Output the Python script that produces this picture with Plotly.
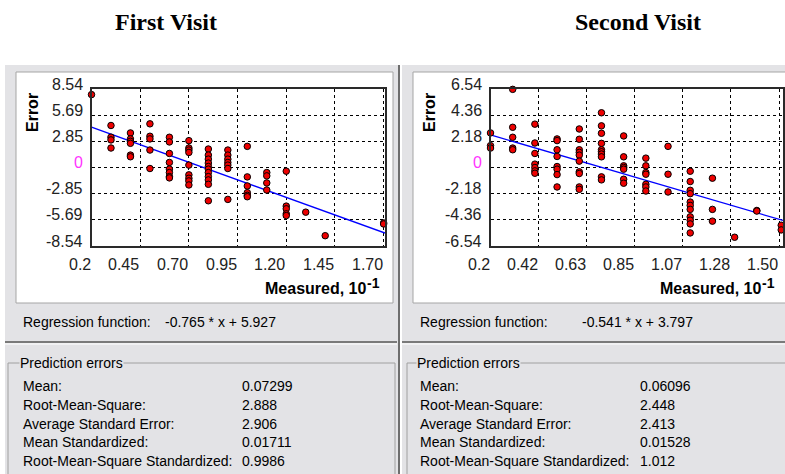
import plotly.graph_objects as go

W, H = 785, 474

# ---------------- data ----------------
titles = ["First Visit", "Second Visit"]

first_measured = [0.2,
                  0.3, 0.3, 0.3, 0.3,
                  0.4, 0.4, 0.4, 0.4, 0.4, 0.4,
                  0.5, 0.5, 0.5, 0.5, 0.5,
                  0.6, 0.6, 0.6, 0.6, 0.6, 0.6, 0.6, 0.6,
                  0.7, 0.7, 0.7, 0.7, 0.7, 0.7, 0.7, 0.7, 0.7,
                  0.8, 0.8, 0.8, 0.8, 0.8, 0.8, 0.8, 0.8, 0.8, 0.8, 0.8,
                  0.9, 0.9, 0.9, 0.9, 0.9, 0.9, 0.9,
                  1.0, 1.0, 1.0, 1.0, 1.0, 1.0,
                  1.1, 1.1, 1.1, 1.1,
                  1.2, 1.2, 1.2, 1.2, 1.2,
                  1.3, 1.4,
                  1.7, 1.7, 1.7]
first_error = [7.93,
               4.57, 3.30, 3.00, 2.12,
               3.76, 3.11, 2.85, 2.63, 1.35, 1.17,
               4.75, 3.40, 3.11, 1.90, -0.11,
               3.29, 2.78, 1.53, 0.55, -0.18, -0.55, -0.99, -1.13,
               2.92, 2.12, 1.90, 1.64, 0.26, -0.80, -1.17, -1.46, -1.90,
               2.01, 1.35, 0.91, 0.48, 0.11, -0.18, -0.55, -0.99, -1.35, -1.83, -3.62,
               1.90, 1.35, 0.91, 0.55, 0.26, -0.11, -3.47,
               2.30, -1.02, -2.01, -2.74, -3.03, -3.18,
               -0.55, -0.91, -1.68, -2.45,
               -0.40, -4.20, -4.49, -5.04, -5.23,
               -4.86, -7.42,
               -6.03, -6.14, -8.59]

second_measured = [0.2, 0.2, 0.2,
                   0.3, 0.3, 0.3, 0.3, 0.3,
                   0.4, 0.4, 0.4, 0.4, 0.4, 0.4, 0.4,
                   0.5, 0.5, 0.5, 0.5, 0.5, 0.5, 0.5, 0.5,
                   0.6, 0.6, 0.6, 0.6, 0.6, 0.6, 0.6, 0.6, 0.6, 0.6,
                   0.7, 0.7, 0.7, 0.7, 0.7, 0.7, 0.7, 0.7, 0.7, 0.7,
                   0.8, 0.8, 0.8, 0.8, 0.8, 0.8, 0.8,
                   0.9, 0.9, 0.9, 0.9, 0.9, 0.9, 0.9,
                   1.0, 1.0, 1.0,
                   1.1, 1.1, 1.1, 1.1, 1.1, 1.1, 1.1, 1.1, 1.1, 1.1, 1.1,
                   1.2, 1.2, 1.2,
                   1.3,
                   1.4, 1.4,
                   1.51, 1.51]
second_error = [2.88, 1.82, 1.62,
                6.51, 3.35, 2.52, 1.62, 1.48,
                3.61, 2.04, 1.17, 0.28, 0.0, -0.28, -0.48,
                2.38, 2.24, 1.48, 0.92, 0.08, -0.14, -0.59, -1.62,
                3.21, 2.35, 1.48, 1.26, 1.03, 0.53, -0.36, -0.50, -1.62, -1.82,
                4.56, 3.47, 2.85, 2.01, 1.48, 1.31, 1.12, 0.89, -0.78, -1.03,
                2.63, 0.89, 0.14, 0.0, -0.14, -0.98, -1.31,
                0.78, 0.14, -0.42, -0.56, -1.40, -1.62, -1.96,
                1.76, -0.56, -2.04,
                -0.31, -1.17, -1.90, -2.18, -2.88, -3.16, -3.49, -4.11, -4.39, -4.70, -5.45,
                -0.89, -3.49, -4.47,
                -5.81,
                -3.58, -3.63,
                -4.81, -5.20]

# regression y = slope * (10 * measured) + intercept   (Measured axis in units of 10^-1)
slopes = [-0.765, -0.541]
intercepts = [5.927, 3.797]
regression_text = ["-0.765 * x + 5.927", "-0.541 * x + 3.797"]

x_tick_vals = [[0.2, 0.45, 0.70, 0.95, 1.20, 1.45, 1.70],
               [0.2 + k * 1.3 / 6 for k in range(7)]]
x_tick_text = [["0.2", "0.45", "0.70", "0.95", "1.20", "1.45", "1.70"],
               ["0.2", "0.42", "0.63", "0.85", "1.07", "1.28", "1.50"]]
y_tick_vals = [[8.54, 5.69, 2.85, 0, -2.85, -5.69, -8.54],
               [6.54, 4.36, 2.18, 0, -2.18, -4.36, -6.54]]
y_tick_text = [["8.54", "5.69", "2.85", "0", "-2.85", "-5.69", "-8.54"],
               ["6.54", "4.36", "2.18", "0", "-2.18", "-4.36", "-6.54"]]
x_ranges = [[0.2, 1.707], [0.2, 1.518]]

stat_labels = ["Mean:", "Root-Mean-Square:", "Average Standard Error:",
               "Mean Standardized:", "Root-Mean-Square Standardized:"]
stat_values = [["0.07299", "2.888", "2.906", "0.01711", "0.9986"],
               ["0.06096", "2.448", "2.413", "0.01528", "1.012"]]

# ---------------- helpers ----------------
def px(x):
    return x / W


def py(y):
    return 1 - y / H


PANEL = "#e3e3e6"
SANS = "Liberation Sans, Arial, sans-serif"
SMALL = 14

fig = go.Figure()
shapes = []
ann = []

panels = [
    dict(gx0=5, gx1=398, wx0=16, wx1=393, plx0=91.5, plx1=385, ylab_r=85, err_x=33,
         meas_r=381, lab_x=21, val_x=240, reg_x=163, box_x0=8, box_x1=395, title_x=166),
    dict(gx0=402, gx1=790, wx0=413, wx1=790, plx0=490.5, plx1=783, ylab_r=484, err_x=430,
         meas_r=776, lab_x=418, val_x=638, reg_x=580, box_x0=407, box_x1=800, title_x=638),
]
plot_top, plot_bot = 89, 246

for i, p in enumerate(panels):
    shapes.append(dict(type="rect", xref="paper", yref="paper",
                       x0=px(p["gx0"]), x1=px(p["gx1"]), y0=py(H + 5), y1=py(65),
                       fillcolor=PANEL, line=dict(width=0), layer="below"))
    shapes.append(dict(type="rect", xref="paper", yref="paper",
                       x0=px(p["wx0"]), x1=px(p["wx1"]), y0=py(303), y1=py(72),
                       fillcolor="white", line=dict(color="#a5a5a5", width=1), layer="below"))
    shapes.append(dict(type="line", xref="paper", yref="paper",
                       x0=px(p["gx0"]), x1=px(p["gx1"] - 1), y0=py(342), y1=py(342),
                       line=dict(color="#7a7a7a", width=2)))
    shapes.append(dict(type="line", xref="paper", yref="paper",
                       x0=px(p["gx0"]), x1=px(p["gx1"] - 1), y0=py(344), y1=py(344),
                       line=dict(color="#ffffff", width=1)))
    shapes.append(dict(type="rect", xref="paper", yref="paper",
                       x0=px(p["box_x0"]), x1=px(p["box_x1"]), y0=py(H + 10), y1=py(363),
                       fillcolor="rgba(0,0,0,0)", line=dict(color="#a0a0a0", width=1)))

    ann.append(dict(text="<b>%s</b>" % titles[i], xref="paper", yref="paper",
                    x=px(p["title_x"]), y=py(22), xanchor="center", yanchor="middle",
                    showarrow=False, font=dict(family="Liberation Serif, Times New Roman, serif",
                                               size=24, color="black")))
    xa = "x" if i == 0 else "x2"
    ya = "y" if i == 0 else "y2"
    ann.append(dict(text="<b>Error</b>", xref="paper", yref="paper", textangle=-90,
                    x=px(p["err_x"]), y=py(113), xanchor="center", yanchor="middle",
                    showarrow=False, font=dict(family=SANS, size=16, color="black")))
    ann.append(dict(text="<b>Measured, 10</b>", xref="paper", yref="paper",
                    x=px(p["meas_r"] - 13), y=py(288), xanchor="right", yanchor="middle",
                    showarrow=False, font=dict(family=SANS, size=16, color="black")))
    ann.append(dict(text="<b>-1</b>", xref="paper", yref="paper",
                    x=px(p["meas_r"] - 16), y=py(283), xanchor="left", yanchor="middle",
                    showarrow=False, font=dict(family=SANS, size=14, color="black")))
    for v, t in zip(y_tick_vals[i], y_tick_text[i]):
        ann.append(dict(text=t, xref="paper", yref=ya, x=px(p["ylab_r"]), y=v,
                        xanchor="right", yanchor="middle", yshift=5, showarrow=False,
                        font=dict(family=SANS, size=16,
                                  color="#ff33ff" if t == "0" else "#222222")))
    for v, t in zip(x_tick_vals[i], x_tick_text[i]):
        ann.append(dict(text=t, xref=xa, yref="paper", x=v, y=py(264),
                        xanchor="right", yanchor="middle", xshift=1, showarrow=False,
                        font=dict(family=SANS, size=16, color="#222222")))
    ann.append(dict(text="Regression function:", xref="paper", yref="paper",
                    x=px(p["lab_x"]), y=py(322), xanchor="left", yanchor="middle",
                    showarrow=False, font=dict(family=SANS, size=SMALL, color="black")))
    ann.append(dict(text=regression_text[i], xref="paper", yref="paper",
                    x=px(p["reg_x"]), y=py(322), xanchor="left", yanchor="middle",
                    showarrow=False, font=dict(family=SANS, size=SMALL, color="black")))
    ann.append(dict(text="Prediction errors", xref="paper", yref="paper",
                    x=px(p["lab_x"] - 2), y=py(363), xanchor="left", yanchor="middle",
                    showarrow=False, bgcolor=PANEL, borderpad=0,
                    font=dict(family=SANS, size=SMALL, color="black")))
    for k, (lab, val) in enumerate(zip(stat_labels, stat_values[i])):
        yy = 386 + k * 18.8
        ann.append(dict(text=lab, xref="paper", yref="paper", x=px(p["lab_x"]), y=py(yy),
                        xanchor="left", yanchor="middle", showarrow=False,
                        font=dict(family=SANS, size=SMALL, color="black")))
        ann.append(dict(text=val, xref="paper", yref="paper", x=px(p["val_x"]), y=py(yy),
                        xanchor="left", yanchor="middle", showarrow=False,
                        font=dict(family=SANS, size=SMALL, color="black")))

shapes.append(dict(type="line", xref="paper", yref="paper", x0=px(399), x1=px(399),
                   y0=py(65), y1=py(H + 5), line=dict(color="#6e6e6e", width=2)))
shapes.append(dict(type="line", xref="paper", yref="paper", x0=px(401.5), x1=px(401.5),
                   y0=py(65), y1=py(H + 5), line=dict(color="#ffffff", width=1)))

# ---------------- traces ----------------
series = [(first_measured, first_error), (second_measured, second_error)]
for i, (mx, er) in enumerate(series):
    xa = "x" if i == 0 else "x2"
    ya = "y" if i == 0 else "y2"
    lx = x_ranges[i]
    ly = [slopes[i] * 10 * v + intercepts[i] for v in lx]
    fig.add_trace(go.Scatter(x=lx, y=ly, mode="lines", xaxis=xa, yaxis=ya,
                             line=dict(color="#0000ff", width=1.3), showlegend=False,
                             hoverinfo="skip"))
    fig.add_trace(go.Scatter(x=mx, y=er, mode="markers", xaxis=xa, yaxis=ya,
                             cliponaxis=False, showlegend=False,
                             marker=dict(size=6.5, color="#ee0000",
                                         line=dict(color="black", width=1))))

axis_common = dict(showline=True, mirror=True, linecolor="#2a2a2a", linewidth=2,
                   showgrid=True, gridcolor="#000000", gridwidth=1, griddash="dot",
                   zeroline=False, showticklabels=False, ticks="", fixedrange=True)

fig.update_layout(
    width=W, height=H,
    margin=dict(l=0, r=0, t=0, b=0),
    paper_bgcolor="white", plot_bgcolor="white",
    showlegend=False,
    shapes=shapes, annotations=ann,
    xaxis=dict(domain=[px(panels[0]["plx0"]), px(panels[0]["plx1"])], range=x_ranges[0],
               tickvals=x_tick_vals[0], anchor="y", **axis_common),
    yaxis=dict(domain=[py(plot_bot), py(plot_top)], range=[-8.54, 8.54],
               tickvals=y_tick_vals[0], anchor="x", **axis_common),
    xaxis2=dict(domain=[px(panels[1]["plx0"]), px(panels[1]["plx1"])], range=x_ranges[1],
                tickvals=x_tick_vals[1], anchor="y2", **axis_common),
    yaxis2=dict(domain=[py(plot_bot), py(plot_top)], range=[-6.54, 6.54],
                tickvals=y_tick_vals[1], anchor="x2", **axis_common),
)

fig.write_html("out.html", config={"displayModeBar": False},
               post_script="document.body.style.margin='0';document.body.style.overflow='hidden';")
